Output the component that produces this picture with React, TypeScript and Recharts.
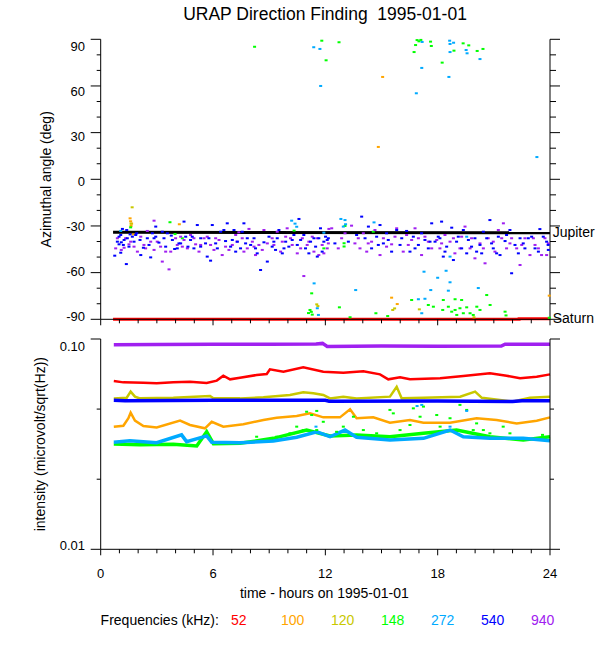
import { ComposedChart, Scatter, Line, XAxis, YAxis, Label } from "recharts";

const FONT = '"Liberation Sans", Arial, Helvetica, sans-serif';

// axis ticks
const HOUR_TICKS = [0, 1, 2, 3, 4, 5, 6, 7, 8, 9, 10, 11, 12, 13, 14, 15, 16, 17, 18, 19, 20, 21, 22, 23, 24];
const ANGLE_TICKS = [-90, -80, -70, -60, -50, -40, -30, -20, -10, 0, 10, 20, 30, 40, 50, 60, 70, 80, 90];
const INT_TICKS = [0.01, 0.02154, 0.04642, 0.1];
const INT_LABELS: Record<string, string> = { "0.01": "0.01", "0.1": "0.10" };

const FREQS = ["52", "100", "120", "148", "272", "540", "940"];
const COLORS: Record<string, string> = {
  "52": "#ff0000",
  "100": "#ffa500",
  "120": "#c8c800",
  "148": "#00ff00",
  "272": "#00aaff",
  "540": "#0000ff",
  "940": "#a020f0",
};

// ---- top panel: azimuth (hours, deg) ----
const az540: [number, number][] = [
  [1.16, -31.9], [1.39, -32.6], [1.07, -35.8], [0.89, -40.1], [0.98, -41.8], [1.1, -40.5], [1.25, -39.0], [1.42, -37.9],
  [1.69, -36.9], [1.87, -35.8], [1.78, -40.1], [1.51, -43.3], [1.07, -47.2], [0.75, -49.1], [1.37, -54.5], [2.14, -48.7],
  [2.28, -44.0], [2.49, -37.9], [2.76, -34.7], [2.67, -50.2], [2.94, -36.9], [2.94, -30.4], [3.11, -40.7], [3.38, -37.9],
  [3.56, -34.7], [3.83, -39.0], [4.09, -44.4], [4.18, -41.2], [4.45, -27.2], [4.54, -36.9], [4.8, -39.0], [4.98, -44.4],
  [5.16, -29.4], [5.34, -37.9], [5.69, -49.7], [5.87, -52.3], [5.96, -29.4], [6.14, -41.2], [6.41, -33.7], [6.58, -32.6],
  [6.76, -28.3], [7.03, -39.0], [7.12, -32.6], [7.3, -40.1], [7.47, -44.4], [7.65, -28.3], [7.83, -37.9], [8.01, -42.2],
  [8.27, -44.4], [8.36, -47.6], [8.54, -58.3], [8.9, -52.9], [8.99, -36.9], [9.25, -40.1], [9.34, -45.4], [9.52, -32.6],
  [9.7, -47.6], [9.88, -40.1], [10.05, -43.3], [10.32, -35.8], [10.59, -25.5], [10.68, -39.0], [10.94, -44.4], [11.12, -47.6],
  [11.39, -37.9], [11.57, -49.7], [11.74, -31.5], [11.92, -40.1], [12.1, -39.0],
  [0.98, -36.9], [1.21, -42.2], [1.57, -35.4], [1.92, -34.7], [2.1, -39.0], [2.58, -42.2], [2.85, -37.9], [3.29, -33.7],
  [3.47, -43.3], [3.77, -36.2], [3.95, -44.8], [4.27, -41.2], [4.66, -43.3], [4.89, -36.9], [5.34, -43.3], [5.6, -41.2],
  [5.78, -37.9], [6.23, -44.4], [6.67, -39.7], [6.94, -43.3], [7.21, -46.5], [7.56, -33.7], [7.74, -41.2], [8.19, -37.9],
  [8.72, -40.5], [9.16, -43.3], [9.43, -37.9], [9.79, -44.4], [10.23, -39.0], [10.5, -42.2], [10.85, -35.8], [11.21, -40.1],
  [11.48, -43.3], [11.65, -37.9], [11.83, -46.5], [12.01, -36.9],
  [13.94, -24.0], [14.12, -37.9], [14.3, -30.4], [14.74, -36.9], [14.92, -29.4], [15.1, -41.2], [15.36, -39.0], [15.54, -46.5],
  [15.81, -32.6], [15.99, -42.2], [16.34, -33.2], [16.52, -46.5], [16.7, -36.9], [16.97, -42.2], [17.32, -39.0], [17.5, -44.4],
  [17.68, -28.3], [17.86, -40.1], [18.03, -36.9], [18.21, -27.2], [18.3, -49.7], [18.48, -43.3], [18.75, -31.1], [18.84, -51.9],
  [19.01, -40.1], [19.28, -44.4], [19.37, -32.6], [19.64, -39.0], [19.81, -43.3], [20.08, -46.5], [20.26, -42.2], [20.44, -33.7],
  [20.62, -37.9], [20.79, -26.2], [20.97, -44.4], [21.24, -36.9], [21.33, -48.7], [21.6, -39.7], [21.86, -32.6], [21.95, -60.4],
  [22.13, -42.2], [22.4, -37.9], [22.66, -44.4], [23.02, -36.9], [23.38, -46.5], [23.46, -32.0], [23.82, -40.1], [23.9, -42.2],
  [12.16, -37.9], [12.51, -41.2], [13.23, -40.1], [13.67, -35.8], [14.47, -44.4], [14.83, -42.2], [15.27, -34.7], [16.08, -37.9],
  [16.79, -44.4], [17.14, -34.7], [17.59, -40.1], [18.12, -37.9], [18.39, -46.5], [19.1, -36.9], [19.55, -47.6], [19.99, -37.9],
  [20.35, -47.6], [20.88, -41.2], [21.15, -47.6], [21.68, -35.8], [22.31, -47.6], [22.57, -41.2], [22.84, -37.9], [23.2, -44.4],
  [23.64, -36.9], [23.91, -45.4],
];

const az940: [number, number][] = [
  [2.85, -26.6], [0.8, -44.4], [1.25, -44.0], [1.33, -37.9], [1.6, -40.1], [1.78, -43.3], [1.96, -46.5], [2.31, -42.2],
  [2.49, -33.2], [2.67, -40.1], [2.85, -45.4], [3.2, -43.3], [3.29, -52.9], [3.65, -57.9], [3.74, -46.5], [4.0, -37.9],
  [4.27, -36.9], [4.36, -43.3], [4.63, -44.4], [4.8, -35.8], [5.07, -41.8], [5.25, -46.5], [5.34, -42.2], [5.52, -37.9],
  [6.05, -45.4], [6.32, -39.0], [6.49, -48.7], [6.67, -43.3], [6.85, -45.4], [7.21, -35.8], [7.38, -34.1], [7.56, -37.9],
  [7.83, -44.4], [7.92, -31.9], [8.1, -40.1], [8.27, -48.7], [8.45, -42.2], [8.72, -32.6], [8.9, -41.2], [9.16, -37.9],
  [9.43, -33.7], [9.61, -46.5], [9.88, -36.9], [9.96, -31.5], [10.23, -42.2], [10.5, -47.6], [10.77, -37.9], [10.85, -62.2],
  [11.03, -42.2], [11.3, -36.9], [11.39, -46.5], [11.65, -48.7], [11.83, -42.2], [12.1, -44.4], [12.19, -31.9],
  [0.89, -37.9], [1.1, -45.4], [1.51, -41.8], [2.14, -36.9], [2.4, -44.4], [3.02, -40.1], [3.47, -46.5], [4.09, -42.2],
  [4.45, -39.0], [4.98, -37.9], [5.69, -36.9], [5.87, -42.2], [6.14, -37.9], [7.03, -42.2], [7.28, -40.1], [7.65, -46.5],
  [8.19, -43.3], [8.63, -45.4], [9.25, -42.2], [9.7, -40.1], [10.14, -37.9], [10.68, -44.4], [11.12, -40.1], [11.57, -37.9],
  [11.92, -47.6],
  [12.34, -31.5], [12.87, -37.9], [12.69, -44.4], [13.4, -29.8], [13.58, -41.2], [13.85, -44.4], [14.03, -34.7], [14.21, -46.5],
  [14.47, -40.1], [14.65, -32.6], [14.92, -48.7], [15.1, -37.9], [15.54, -41.8], [15.81, -31.5], [16.16, -46.5], [16.34, -35.8],
  [16.61, -39.0], [16.79, -31.5], [17.14, -48.7], [17.32, -36.9], [17.68, -44.4], [17.95, -39.0], [18.12, -44.4], [18.39, -35.8],
  [18.66, -40.1], [18.92, -47.6], [19.28, -36.9], [19.46, -30.4], [19.73, -44.4], [19.99, -50.8], [20.26, -41.2], [20.53, -54.0],
  [20.7, -37.9], [20.97, -40.1], [21.24, -32.6], [21.51, -28.3], [21.68, -44.4], [21.95, -37.9], [22.22, -44.4], [22.4, -55.1],
  [22.66, -37.9], [22.93, -48.7], [23.2, -42.2], [23.55, -48.7], [23.73, -37.9], [23.91, -41.2],
  [12.16, -41.2], [13.05, -34.7], [13.76, -37.9], [14.29, -41.2], [15.27, -43.3], [15.72, -36.9], [16.43, -42.2], [16.97, -37.9],
  [17.5, -40.1], [18.21, -41.2], [18.84, -37.9], [19.19, -44.4], [19.81, -37.9], [20.44, -44.4], [21.06, -46.5], [21.42, -37.9],
  [21.86, -41.2], [22.49, -42.2], [23.11, -37.9], [23.38, -44.4], [23.82, -48.7],
];

const az272: [number, number][] = [
  [11.38, 84.9], [11.71, 83.8], [11.75, 60.0], [16.86, 55.3], [17.17, 88.3], [17.15, 71.6], [18.64, 89.1], [18.66, 87.0],
  [18.66, 81.8], [18.85, 87.8], [18.6, 65.8], [19.52, 83.1], [19.57, 81.0], [20.26, 77.3], [23.3, 14.3],
  [1.07, -33.2], [10.2, -26.6], [10.38, -28.5], [10.47, -30.5], [11.92, -34.3], [12.83, -25.5], [13.05, -26.2], [13.08, -28.9],
  [12.96, -30.4], [14.6, -27.7], [19.55, -36.9], [18.66, -49.7],
  [11.4, -66.9], [11.57, -82.9], [11.63, -87.2], [13.62, -71.2], [17.27, -59.4], [18.45, -58.8], [18.0, -63.3], [18.66, -66.2],
  [17.63, -71.2], [18.57, -71.6], [20.17, -69.9], [16.97, -77.1], [17.32, -76.8], [17.15, -86.1],
];

const az148: [number, number][] = [
  [8.22, 85.2], [11.81, 89.1], [12.04, 76.5], [12.73, 88.1], [16.74, 81.8], [16.82, 86.3], [16.9, 89.5], [17.0, 88.7],
  [17.1, 89.6], [17.62, 88.5], [17.66, 85.7], [18.24, 75.0], [18.87, 82.7], [19.36, 87.4], [19.66, 86.1], [20.11, 82.5],
  [20.42, 83.8],
  [1.6, -30.9], [3.7, -27.6], [3.97, -35.2], [4.36, -37.9], [10.33, -33.0], [13.05, -30.0], [13.0, -41.1], [13.0, -43.2],
  [14.56, -33.7], [11.92, -44.4],
  [11.27, -73.3], [11.18, -84.0], [11.1, -86.0], [11.25, -85.2], [11.3, -87.0], [12.75, -82.3], [13.32, -88.7], [14.7, -86.1],
  [15.33, -87.9], [16.61, -77.6], [17.5, -80.8], [17.77, -81.9], [18.3, -77.6], [18.27, -84.0], [18.57, -81.9], [18.75, -85.1],
  [18.93, -84.0], [19.02, -87.2], [19.19, -82.9], [19.28, -77.6], [19.37, -86.1], [19.55, -82.3], [19.73, -86.1], [19.9, -87.2],
  [20.09, -81.9], [20.26, -84.0], [18.93, -77.1], [20.62, -74.4], [20.8, -80.8], [21.6, -85.1], [21.65, -87.5], [23.96, -89.0],
];

const az120: [number, number][] = [
  [1.68, -18.0], [1.62, -28.5], [11.54, -80.4], [11.6, -81.5], [15.6, -84.0], [15.7, -83.0], [17.02, -83.6], [19.94, -88.7],
];

const az100: [number, number][] = [
  [1.57, -25.1], [1.6, -27.0], [1.65, -28.5], [1.62, -30.0], [1.74, -35.4], [4.2, -28.9], [14.83, 20.8], [15.06, 65.8],
  [15.54, -76.1], [15.84, -80.2], [23.96, -74.8],
];

const jupiter: [number, number][] = [[0.66, -34.0], [24, -34.4]];
const saturn: [number, number][] = [[0.66, -90.0], [22.3, -90.0], [22.35, -89.7], [24, -89.7]];

// ---- bottom panel: intensity (hours, microvolt/sqrt(Hz)) ----
const int52: [number, number][] = [
  [0.7, 0.0631], [1.21, 0.0622], [2.28, 0.062], [2.99, 0.0616], [3.88, 0.0622], [4.77, 0.0627], [5.66, 0.0618], [6.2, 0.0634],
  [6.55, 0.0669], [6.91, 0.0643], [7.44, 0.0655], [8.33, 0.0674], [8.87, 0.0682], [9.04, 0.0718], [9.76, 0.0699], [10.82, 0.0734],
  [11.89, 0.0699], [12.96, 0.0691], [14.03, 0.0702], [14.92, 0.0679], [15.36, 0.0643], [15.99, 0.0658], [16.52, 0.0643],
  [18.13, 0.065], [19.37, 0.0667], [20.79, 0.0687], [21.68, 0.0669], [22.4, 0.065], [23.29, 0.0662], [24, 0.0679],
];
const int100: [number, number][] = [
  [0.7, 0.0383], [1.21, 0.0387], [1.48, 0.042], [1.6, 0.0446], [1.83, 0.0409], [2.28, 0.0386], [2.99, 0.038], [4.24, 0.0409],
  [4.77, 0.039], [5.57, 0.0376], [5.93, 0.0404], [6.55, 0.0383], [7.62, 0.0393], [8.69, 0.0412], [9.4, 0.0422], [10.47, 0.043],
  [11.18, 0.0443], [11.89, 0.0424], [12.78, 0.0424], [13.32, 0.0463], [13.67, 0.042], [14.56, 0.0424], [15.45, 0.04],
  [16.52, 0.0412], [17.24, 0.04], [18.66, 0.04], [20.08, 0.042], [21.15, 0.0412], [22.22, 0.0397], [23.29, 0.0409], [24, 0.0424],
];
const int120: [number, number][] = [
  [0.7, 0.0522], [1.39, 0.0526], [1.6, 0.0562], [1.83, 0.0532], [2.1, 0.0522], [3.88, 0.0525], [5.84, 0.0536], [6.02, 0.0522],
  [7.44, 0.0522], [8.69, 0.0528], [10.11, 0.0542], [10.82, 0.0558], [11.36, 0.0552], [11.89, 0.0542], [12.25, 0.0522],
  [12.96, 0.0532], [13.67, 0.0522], [15.45, 0.0532], [15.81, 0.0593], [16.08, 0.0522], [17.24, 0.0525], [19.2, 0.0532],
  [20.0, 0.0562], [20.36, 0.0525], [22.04, 0.0504], [22.93, 0.0525], [24, 0.0532],
];
const int148: [number, number][] = [
  [0.7, 0.0317], [2.1, 0.0314], [3.88, 0.0316], [5.13, 0.031], [5.66, 0.0362], [6.02, 0.0318], [7.44, 0.0319], [9.22, 0.0337],
  [11.0, 0.0369], [12.25, 0.0346], [13.67, 0.035], [15.45, 0.0343], [17.24, 0.0356], [19.01, 0.0369], [20.79, 0.0343],
  [22.57, 0.0331], [24, 0.0343],
];
const int272: [number, number][] = [
  [0.7, 0.0323], [1.56, 0.0328], [2.99, 0.0321], [4.32, 0.035], [4.59, 0.0325], [5.66, 0.0346], [5.93, 0.0323], [7.44, 0.0321],
  [9.22, 0.0327], [10.47, 0.0341], [11.54, 0.0362], [12.25, 0.0343], [13.05, 0.0369], [13.67, 0.0341], [15.45, 0.0331],
  [17.24, 0.0337], [18.66, 0.0369], [19.37, 0.0343], [20.79, 0.0337], [22.57, 0.0337], [24, 0.0328],
];
const int540: [number, number][] = [
  [0.7, 0.0511], [1.3, 0.0509], [6, 0.0511], [12, 0.0511], [12.2, 0.0506], [18, 0.0507], [22, 0.0505], [22.5, 0.0509], [24, 0.0509],
];
const int940: [number, number][] = [
  [0.7, 0.094], [3, 0.0942], [6, 0.0945], [9, 0.0944], [11.5, 0.0947], [11.85, 0.0953], [12.1, 0.0922], [15, 0.0925],
  [18, 0.0924], [21.4, 0.0925], [21.6, 0.0944], [24, 0.0945],
];
const spread148: [number, number][] = [
  [11.0, 0.0451], [11.27, 0.0435], [11.54, 0.0455], [11.89, 0.0404], [10.47, 0.0383], [10.82, 0.0369], [12.96, 0.0383],
  [13.5, 0.0427], [14.03, 0.0369], [15.45, 0.046], [15.63, 0.0443], [16.7, 0.0468], [17.06, 0.0427], [17.24, 0.0477],
  [17.95, 0.0435], [18.66, 0.042], [19.19, 0.0486], [19.55, 0.046], [19.01, 0.0369], [19.9, 0.0369], [20.08, 0.0397],
  [20.79, 0.0356], [21.5, 0.0383], [14.74, 0.0356], [10.11, 0.0356], [9.4, 0.0343], [8.33, 0.0343], [12.6, 0.0362],
  [18.13, 0.0383], [17.6, 0.0356], [15.99, 0.0369], [16.52, 0.039], [11.54, 0.0369], [20.44, 0.0369], [21.86, 0.0356],
  [23.6, 0.035],
];
const spread272: [number, number][] = [
  [17.15, 0.0486], [19.55, 0.0455], [18.66, 0.0383], [16.9, 0.048], [11.5, 0.0383],
];

const azPts = (arr: [number, number][]) => arr.map(([t, a]) => ({ t, a }));
const intPts = (arr: [number, number][]) => arr.map(([t, v]) => ({ t, v }));

const dotShape = (color: string) => (p: any) =>
  <rect x={p.cx - 1.5} y={p.cy - 1} width={3} height={2} fill={color} />;

const hourTick = (dir: number, withLabel: boolean) => (p: any) => {
  const v = p.payload.value;
  const major = v % 6 === 0;
  return (
    <g>
      <line x1={p.x} x2={p.x} y1={p.y} y2={p.y + dir * (major ? 6 : 4)} stroke="#000" />
      {withLabel && major && (
        <text x={p.x} y={p.y + 28.4} textAnchor="middle" fontSize={13} fontFamily={FONT} fill="#000">
          {v}
        </text>
      )}
    </g>
  );
};

const angleTick = (side: "left" | "right") => (p: any) => {
  const v = p.payload.value;
  const major = v % 30 === 0;
  const dir = side === "left" ? -1 : 1;
  const len = major ? 10 : side === "left" ? 4 : 6;
  const off = 6.9 - (9.4 * (90 - v)) / 180;
  return (
    <g>
      <line x1={p.x} x2={p.x + dir * len} y1={p.y} y2={p.y} stroke="#000" />
      {side === "left" && major && (
        <text x={p.x - 15.7} y={p.y + off + 4.6} textAnchor="end" fontSize={13} fontFamily={FONT} fill="#000">
          {v}
        </text>
      )}
    </g>
  );
};

const intTick = (side: "left" | "right") => (p: any) => {
  const v = p.payload.value;
  const lbl = INT_LABELS[String(v)];
  const dir = side === "left" ? -1 : 1;
  const frac = Math.log10(0.1) - Math.log10(v);
  const off = 7 - 11.3 * frac;
  return (
    <g>
      <line x1={p.x} x2={p.x + dir * (lbl ? 10 : 4)} y1={p.y} y2={p.y} stroke="#000" />
      {side === "left" && lbl && (
        <text x={p.x - 15.7} y={p.y + off + 4.6} textAnchor="end" fontSize={13} fontFamily={FONT} fill="#000">
          {lbl}
        </text>
      )}
    </g>
  );
};

const vTitle = (text: string, cx: number) => (p: any) => {
  const vb = p.viewBox || { x: 0, y: 0, width: 100, height: 280 };
  const cy = vb.y + vb.height / 2;
  return (
    <text
      x={cx}
      y={cy}
      transform={`rotate(-90 ${cx} ${cy})`}
      textAnchor="middle"
      dominantBaseline="central"
      fontSize={14}
      fontFamily={FONT}
      fill="#000"
    >
      {text}
    </text>
  );
};

const endLabel = (text: string, count: number) => (p: any) =>
  p.index === count - 1 ? (
    <text x={p.x + 2.7} y={p.y - 1} dominantBaseline="central" fontSize={14} fontFamily={FONT} fill="#000">
      {text}
    </text>
  ) : null;

const AXIS = { stroke: "#000", strokeWidth: 1 };

function TopPanel() {
  return (
    <ComposedChart width={600} height={330} margin={{ top: 39.3, right: 0, bottom: 0, left: 0 }}>
      <XAxis dataKey="t" type="number" domain={[0, 24]} ticks={HOUR_TICKS} interval={0} height={10.7}
        axisLine={AXIS} tickLine={false} tickSize={0} tickMargin={0} tick={hourTick(1, false)} />
      <XAxis xAxisId="top" orientation="top" dataKey="t" type="number" domain={[0, 24]} allowDataOverflow ticks={HOUR_TICKS}
        interval={0} height={0} axisLine={AXIS} tickLine={false} tickSize={0} tickMargin={0} tick={hourTick(-1, false)} />
      <YAxis dataKey="a" type="number" domain={[-90, 90]} ticks={ANGLE_TICKS} interval={0} width={100.7}
        axisLine={AXIS} tickLine={false} tickSize={0} tickMargin={0} tick={angleTick("left")}>
        <Label content={vTitle("Azimuthal angle (deg)", 46)} />
      </YAxis>
      <YAxis yAxisId="r" orientation="right" type="number" domain={[-90, 90]} allowDataOverflow ticks={ANGLE_TICKS}
        interval={0} width={50} axisLine={AXIS} tickLine={false} tickSize={0} tickMargin={0} tick={angleTick("right")} />
      <Scatter data={azPts(az100)} fill={COLORS["100"]} shape={dotShape(COLORS["100"])} isAnimationActive={false} />
      <Scatter data={azPts(az120)} fill={COLORS["120"]} shape={dotShape(COLORS["120"])} isAnimationActive={false} />
      <Scatter data={azPts(az148)} fill={COLORS["148"]} shape={dotShape(COLORS["148"])} isAnimationActive={false} />
      <Scatter data={azPts(az272)} fill={COLORS["272"]} shape={dotShape(COLORS["272"])} isAnimationActive={false} />
      <Scatter data={azPts(az940)} fill={COLORS["940"]} shape={dotShape(COLORS["940"])} isAnimationActive={false} />
      <Scatter data={azPts(az540)} fill={COLORS["540"]} shape={dotShape(COLORS["540"])} isAnimationActive={false} />
      <Line data={azPts(jupiter)} dataKey="a" stroke="#000" strokeWidth={3} dot={false} type="linear"
        label={endLabel("Jupiter", jupiter.length)} isAnimationActive={false} />
      <Line data={azPts(saturn)} dataKey="a" stroke="#ff0000" strokeWidth={3} dot={false} type="stepAfter"
        label={endLabel("Saturn", saturn.length)} isAnimationActive={false} />
    </ComposedChart>
  );
}

const INT_SERIES: { f: string; data: [number, number][]; w: number }[] = [
  { f: "52", data: int52, w: 2.5 },
  { f: "100", data: int100, w: 2.5 },
  { f: "120", data: int120, w: 2.5 },
  { f: "148", data: int148, w: 3.5 },
  { f: "272", data: int272, w: 3.5 },
  { f: "540", data: int540, w: 3.5 },
  { f: "940", data: int940, w: 3.5 },
];

function BottomPanel() {
  return (
    <ComposedChart width={600} height={285} margin={{ top: 14, right: 0, bottom: 0, left: 0 }}>
      <XAxis dataKey="t" type="number" domain={[0, 24]} ticks={HOUR_TICKS} interval={0} height={60.7}
        axisLine={AXIS} tickLine={false} tickSize={0} tickMargin={0} tick={hourTick(1, true)}>
        <Label
          content={(p: any) => {
            const vb = p.viewBox || { x: 100.7, y: 224.3, width: 449.3 };
            return (
              <text x={vb.x + vb.width / 2 - 1} y={vb.y + 48.4} textAnchor="middle" fontSize={14} fontFamily={FONT} fill="#000">
                time - hours on 1995-01-01
              </text>
            );
          }}
        />
      </XAxis>
      <XAxis xAxisId="top" orientation="top" dataKey="t" type="number" domain={[0, 24]} allowDataOverflow ticks={HOUR_TICKS}
        interval={0} height={0} axisLine={AXIS} tickLine={false} tickSize={0} tickMargin={0} tick={hourTick(-1, false)} />
      <YAxis dataKey="v" type="number" scale="log" domain={[0.01, 0.1]} allowDataOverflow ticks={INT_TICKS} interval={0}
        width={100.7} axisLine={AXIS} tickLine={false} tickSize={0} tickMargin={0} tick={intTick("left")}>
        <Label content={vTitle("intensity (microvolt/sqrt(Hz))", 40)} />
      </YAxis>
      <YAxis yAxisId="r" orientation="right" type="number" scale="log" domain={[0.01, 0.1]} allowDataOverflow ticks={INT_TICKS}
        interval={0} width={50} axisLine={AXIS} tickLine={false} tickSize={0} tickMargin={0} tick={intTick("right")} />
      {INT_SERIES.slice(0, 4).map((s) => (
        <Line key={s.f} data={intPts(s.data)} dataKey="v" stroke={COLORS[s.f]} strokeWidth={s.w} dot={false}
          type="linear" isAnimationActive={false} />
      ))}
      <Scatter data={intPts(spread148)} shape={dotShape(COLORS["148"])} isAnimationActive={false} />
      {INT_SERIES.slice(4).map((s) => (
        <Line key={s.f} data={intPts(s.data)} dataKey="v" stroke={COLORS[s.f]} strokeWidth={s.w} dot={false}
          type="linear" isAnimationActive={false} />
      ))}
      <Scatter data={intPts(spread272)} shape={dotShape(COLORS["272"])} isAnimationActive={false} />
    </ComposedChart>
  );
}

export default function App() {
  return (
    <div style={{ position: "absolute", left: 0, top: 0, width: 600, height: 650, background: "#fff", fontFamily: FONT }}>
      <div style={{ position: "absolute", left: 0, top: 0 }}>
        <TopPanel />
      </div>
      <div style={{ position: "absolute", left: 0, top: 325 }}>
        <BottomPanel />
      </div>
      <svg width={600} height={650} style={{ position: "absolute", left: 0, top: 0, pointerEvents: "none" }}>
        <text x={325} y={19.5} textAnchor="middle" fontSize={17.5} fontFamily={FONT} fill="#000" style={{ whiteSpace: "pre" }}>
          URAP Direction Finding  1995-01-01
        </text>
        <text x={100.6} y={625} fontSize={14} fontFamily={FONT} fill="#000">
          Frequencies (kHz):
        </text>
        {FREQS.map((f, i) => (
          <text key={f} x={231 + 50 * i} y={625} fontSize={14} fontFamily={FONT} fill={COLORS[f]}>
            {f}
          </text>
        ))}
      </svg>
    </div>
  );
}
